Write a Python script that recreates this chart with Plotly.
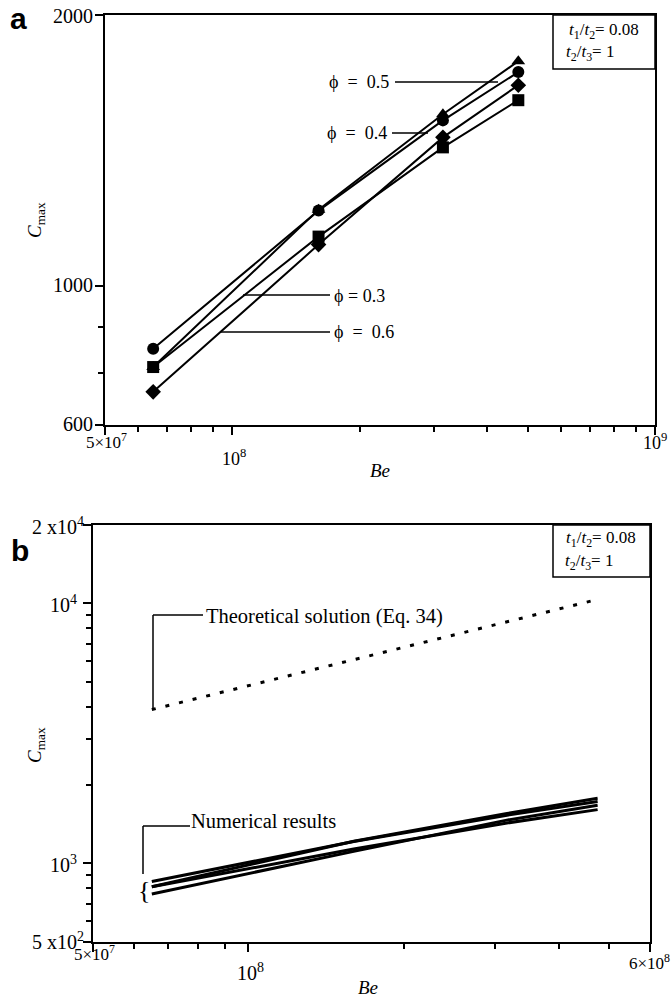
import math
import plotly.graph_objects as go

# ---------------- data ----------------
be = [6.5e7, 1.6e8, 3.15e8, 4.75e8]
phi_03 = [812, 1134, 1425, 1608]    # squares
phi_04 = [851, 1212, 1527, 1728]    # circles
phi_05 = [812, 1215, 1551, 1777]    # triangles
phi_06 = [762, 1111, 1462, 1671]    # diamonds
theory_be = [6.5e7, 1.6e8, 3.15e8, 4.8e8]
theory_c = [3900, 6050, 8450, 10400]

W, H = 672, 1000
FONT = "Liberation Serif"


def px(x):
    return x / W


def py(y):
    return 1 - y / H


fig = go.Figure()

series = [
    (phi_04, "circle", "ϕ = 0.4"),
    (phi_05, "triangle-up", "ϕ = 0.5"),
    (phi_03, "square", "ϕ = 0.3"),
    (phi_06, "diamond", "ϕ = 0.6"),
]
for vals, sym, name in series:
    fig.add_trace(go.Scatter(
        x=be, y=vals, mode="lines+markers", name=name,
        line=dict(color="black", width=2),
        marker=dict(symbol=sym, size=12, color="black"),
        xaxis="x", yaxis="y", showlegend=False))

for vals, sym, name in series:
    fig.add_trace(go.Scatter(
        x=be, y=vals, mode="lines", name=name,
        line=dict(color="black", width=3),
        xaxis="x2", yaxis="y2", showlegend=False))

fig.add_trace(go.Scatter(
    x=theory_be, y=theory_c, mode="lines", name="Theoretical",
    line=dict(color="black", width=3, dash="4px,10px"),
    xaxis="x2", yaxis="y2", showlegend=False))

axis_common = dict(
    type="log", showline=True, linecolor="black", linewidth=2, mirror=True,
    ticks="outside", tickcolor="black", tickwidth=2, ticklen=8,
    showticklabels=False, showgrid=False, zeroline=False)

fig.update_layout(
    width=W, height=H, margin=dict(l=0, r=0, t=0, b=0),
    paper_bgcolor="white", plot_bgcolor="white",
    font=dict(family=FONT, color="black"),
    xaxis=dict(axis_common, domain=[px(105), px(655)],
               range=[math.log10(5e7), 9], anchor="y",
               tickvals=[5e7, 1e8, 1e9],
               minor=dict(tickvals=[6e7, 7e7, 8e7, 9e7, 2e8, 3e8, 4e8, 5e8,
                                    6e8, 7e8, 8e8, 9e8],
                          ticks="outside", ticklen=5, tickwidth=2,
                          tickcolor="black", showgrid=False)),
    yaxis=dict(axis_common, domain=[py(425), py(15)],
               range=[math.log10(700), math.log10(2000)], anchor="x",
               tickvals=[700, 1000, 2000],
               minor=dict(tickvals=[800, 900], ticks="outside", ticklen=5,
                          tickwidth=2, tickcolor="black", showgrid=False)),
    xaxis2=dict(axis_common, domain=[px(93), px(650)],
                range=[math.log10(5e7), math.log10(6e8)], anchor="y2",
                tickvals=[5e7, 1e8, 6e8],
                minor=dict(tickvals=[6e7, 7e7, 8e7, 9e7, 2e8, 3e8, 4e8, 5e8],
                           ticks="outside", ticklen=5, tickwidth=2,
                           tickcolor="black", showgrid=False)),
    yaxis2=dict(axis_common, domain=[py(941.5), py(525)],
                range=[math.log10(500), math.log10(20000)], anchor="x2",
                tickvals=[500, 1000, 10000, 20000],
                minor=dict(tickvals=[600, 700, 800, 900, 2000, 3000, 4000,
                                     5000, 6000, 7000, 8000, 9000],
                           ticks="outside", ticklen=5, tickwidth=2,
                           tickcolor="black", showgrid=False)),
)

ann = []


def text(x, y, s, size=18, xa="center", ya="middle", angle=0, fam=FONT):
    ann.append(dict(x=px(x), y=py(y), xref="paper", yref="paper", text=s,
                    showarrow=False, xanchor=xa, yanchor=ya, textangle=angle,
                    font=dict(family=fam, size=size, color="black")))


shapes = []


def seg(x0, y0, x1, y1, w=1.5):
    shapes.append(dict(type="line", xref="paper", yref="paper",
                       x0=px(x0), y0=py(y0), x1=px(x1), y1=py(y1),
                       line=dict(color="black", width=w)))


def box(x0, y0, x1, y1):
    shapes.append(dict(type="rect", xref="paper", yref="paper",
                       x0=px(x0), y0=py(y0), x1=px(x1), y1=py(y1),
                       line=dict(color="black", width=1.5),
                       fillcolor="white"))


# ---- panel a ----
text(18, 18, "<b>a</b>", size=30, fam="Liberation Sans")
text(95, 16, "2000", size=20, xa="right")
text(95, 285, "1000", size=20, xa="right")
text(95, 424, "600", size=20, xa="right")
text(106, 441, "5×10<sup>7</sup>", size=17)
text(234, 458, "10<sup>8</sup>", size=18)
text(655, 442, "10<sup>9</sup>", size=18)
text(380, 470, "<i>Be</i>", size=19)
text(36, 220, "<i>C</i><sub>max</sub>", size=19, angle=-90)

box(553, 15, 655, 69)
text(604, 31, "<i>t</i><sub>1</sub>/<i>t</i><sub>2</sub>= 0.08", size=17)
text(590, 53, "<i>t</i><sub>2</sub>/<i>t</i><sub>3</sub>= 1", size=17)

text(391, 82, "ϕ  =  0.5", xa="right")
seg(395, 82, 498, 82)
text(389, 133, "ϕ  =  0.4", xa="right")
seg(392, 133, 428, 133)
text(332, 296, "ϕ = 0.3", xa="left")
seg(243, 295, 330, 295)
text(332, 332, "ϕ  =  0.6", xa="left")
seg(220, 332, 330, 332)

# ---- panel b ----
text(20, 550, "<b>b</b>", size=30, fam="Liberation Sans")
text(86, 526, "2 x10<sup>4</sup>", size=20, xa="right")
text(79, 604, "10<sup>4</sup>", size=20, xa="right")
text(79, 864, "10<sup>3</sup>", size=20, xa="right")
text(86, 941, "5 x10<sup>2</sup>", size=20, xa="right")
text(94, 953, "5×10<sup>7</sup>", size=17)
text(250, 972, "10<sup>8</sup>", size=20)
text(672, 962, "6×10<sup>8</sup>", size=17, xa="right")
text(368, 987, "<i>Be</i>", size=19)
text(36, 745, "<i>C</i><sub>max</sub>", size=19, angle=-90)

box(553, 525, 650, 577)
text(601, 539, "<i>t</i><sub>1</sub>/<i>t</i><sub>2</sub>= 0.08", size=17)
text(589, 562, "<i>t</i><sub>2</sub>/<i>t</i><sub>3</sub>= 1", size=17)

seg(153, 615, 203, 615)
seg(153, 615, 153, 709)
text(204, 616, "Theoretical solution (Eq. 34)", size=20.5, xa="left")

seg(143, 826, 190, 826)
seg(143, 826, 143, 874)
text(189, 821, "Numerical results", size=20.5, xa="left")
text(144, 890, "{", size=26)

fig.update_layout(annotations=ann, shapes=shapes)
fig.write_html("out.html")
